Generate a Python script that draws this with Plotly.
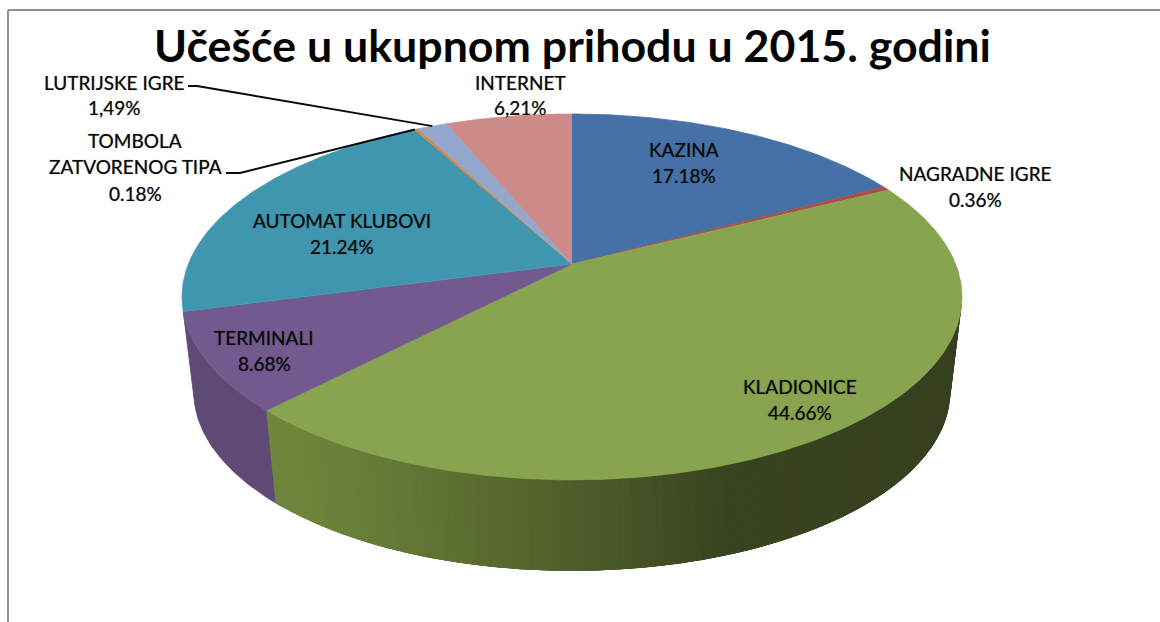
import numpy as np
import plotly.graph_objects as go

# ---- data ----
categories = ["KAZINA", "NAGRADNE IGRE", "KLADIONICE", "TERMINALI",
              "AUTOMAT KLUBOVI", "TOMBOLA ZATVORENOG TIPA", "LUTRIJSKE IGRE", "INTERNET"]
values = [17.18, 0.36, 44.66, 8.68, 21.24, 0.18, 1.49, 6.21]
label_lines = [["KAZINA", "17.18%"], ["NAGRADNE IGRE", "0.36%"], ["KLADIONICE", "44.66%"],
               ["TERMINALI", "8.68%"], ["AUTOMAT KLUBOVI", "21.24%"],
               ["TOMBOLA", "ZATVORENOG TIPA", "0.18%"], ["LUTRIJSKE IGRE", "1,49%"],
               ["INTERNET", "6,21%"]]
title_text = "Učešće u ukupnom prihodu u 2015. godini"

# ---- styling / layout ----
top_colors = ["#4571a6", "#a94d4a", "#88a44f", "#725a8e", "#4096af", "#db843d", "#93a7cc", "#cc8a88"]
label_pos = [(684, 149), (975, 173), (800, 386), (264, 337), (342, 220), (135, 140), (114, 82), (520, 82)]
label_gap = [26, 26, 26, 26, 26, 26.5, 25, 25]
FONT = "Lato"
W, H = 1160, 622
CX, CY = 572, 264          # pie apex on screen
A, B, K = 383.6, 177, 0.18 # perspective projection of the unit disc
SX, SY, DY = 0.97, 0.98, 100.6  # base disc relative to top disc


def top(t):
    t = np.radians(t)
    d = 1 + K * np.cos(t)
    return CX + A * np.sin(t) / d, CY - B * np.cos(t) / d


def base(t):
    x, y = top(t)
    return CX + SX * (x - CX), SY * y + DY


def wall_color(x):
    xs = [265, 350, 450, 560, 640, 700, 960]
    r = [110, 102, 92, 78, 66, 57, 54]
    g = [136, 124, 108, 92, 78, 68, 64]
    b = [60, 55, 48, 42, 36, 32, 31]
    return "rgb(%d,%d,%d)" % (np.interp(x, xs, r), np.interp(x, xs, g), np.interp(x, xs, b))


cum = np.concatenate([[0], np.cumsum(values)]) / sum(values) * 360
fig = go.Figure()


def poly(x, y, color, lw=0.8):
    fig.add_trace(go.Scatter(x=list(x), y=list(y), mode="lines", fill="toself", fillcolor=color,
                             line=dict(color=color, width=lw), hoverinfo="skip"))


# side wall: purple slice, flat shade (runs a little under the green wall to hide the seam)
ts = np.linspace(cum[3] - 1.5, cum[4], 40)
xa, ya = top(ts)
xb, yb = base(ts)
poly(np.r_[xa, xb[::-1]], np.r_[ya, yb[::-1]], "#5f4a76")

# side wall: green slice, shaded in overlapping strips (painted from right to left)
edges = np.linspace(101, cum[3], 90)
for i in range(len(edges) - 1):
    seg = edges[max(0, i - 3):i + 2]
    xa, ya = top(seg)
    xb, yb = base(seg)
    poly(np.r_[xa, xb[::-1]], np.r_[ya, yb[::-1]], wall_color(top(edges[i])[0]), lw=0)

# top faces
for i, c in enumerate(top_colors):
    ts = np.linspace(cum[i], cum[i + 1], max(3, int(values[i] * 6)))
    x, y = top(ts)
    poly(np.r_[CX, x], np.r_[CY, y], c)

# leader lines
for i, elbow in ((5, [(226, 173), (240, 173)]), (6, [(188, 86), (197, 86)])):
    tx, ty = top(cum[i] + 0.02 if i == 5 else (cum[i] + cum[i + 1]) / 2)
    fig.add_trace(go.Scatter(x=[elbow[0][0], elbow[1][0], tx], y=[elbow[0][1], elbow[1][1], ty],
                             mode="lines", line=dict(color="#0a0a0a", width=2), hoverinfo="skip"))

annotations = [dict(x=572, y=45, xref="x", yref="y", text=title_text, showarrow=False,
                    xanchor="center", yanchor="middle",
                    font=dict(family=FONT, size=44.7, color="#050505", weight="bold"))]
for lines, (lx, ly), gap in zip(label_lines, label_pos, label_gap):
    for n, s in enumerate(lines):
        annotations.append(dict(x=lx, y=ly + n * gap, xref="x", yref="y", text=s, showarrow=False,
                                xanchor="center", yanchor="middle",
                                font=dict(family=FONT, size=19, color="#0a0a0a",
                                          shadow="0 0 1px rgba(0,0,0,0.55)")))

fig.update_layout(
    width=W, height=H, margin=dict(l=0, r=0, t=0, b=0), showlegend=False,
    paper_bgcolor="white", plot_bgcolor="white", hovermode=False,
    xaxis=dict(range=[0, W], visible=False, fixedrange=True),
    yaxis=dict(range=[H, 0], visible=False, fixedrange=True),
    annotations=annotations,
    shapes=[dict(type="line", xref="x", yref="y", x0=8, y0=10, x1=W, y1=10, line=dict(color="#8f8f8f", width=2)),
            dict(type="line", xref="x", yref="y", x0=8, y0=10, x1=8, y1=H, line=dict(color="#8f8f8f", width=2))],
)
fig.write_html("out.html", config=dict(displayModeBar=False),
               post_script="document.body.style.margin='0';document.body.style.overflow='hidden';")
